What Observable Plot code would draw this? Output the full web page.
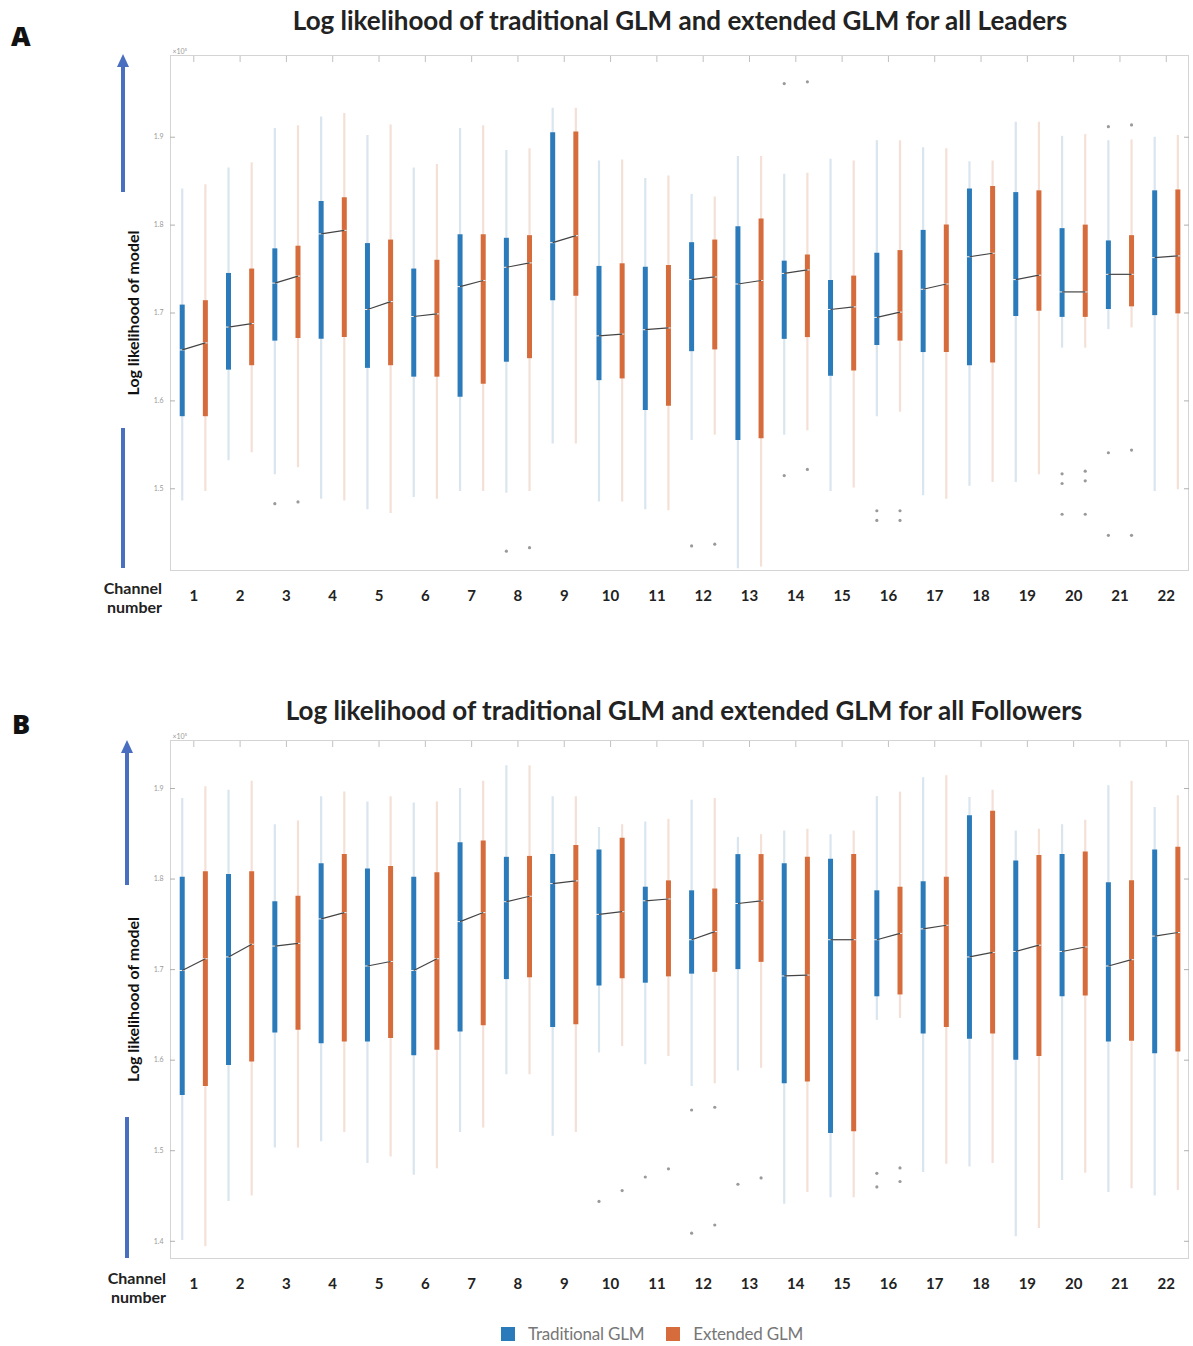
<!DOCTYPE html>
<html>
<head>
<meta charset="utf-8">
<script src="https://cdn.jsdelivr.net/npm/d3@7"></script>
<script src="https://cdn.jsdelivr.net/npm/@observablehq/plot@0.6"></script>
<style>
  body { margin: 0; background: #fff; font-family: Lato, "Open Sans", sans-serif; }
  #root { position: relative; width: 1193px; height: 1346px; overflow: hidden; }
  .panel { position: absolute; left: 0; }
  .abs { position: absolute; white-space: nowrap; }
  .title { font-weight: bold; font-size: 26px; color: #222; transform: translate(-50%, -50%); }
  .letter { font-family: "Open Sans", sans-serif; font-weight: 800; font-size: 27px; color: #111; transform: translateY(-50%); }
  .chan { font-weight: bold; font-size: 16px; color: #222; text-align: right; line-height: 19px; }
  .legend { display: flex; align-items: center; font-size: 17px; color: #777; letter-spacing: -0.2px; }
  .sw { width: 14px; height: 14px; display: inline-block; margin-right: 13px; }
</style>
</head>
<body>
<div id="root"></div>
<script>
// ---------------- data (values ×10^5) ----------------
const channels = [1,2,3,4,5,6,7,8,9,10,11,12,13,14,15,16,17,18,19,20,21,22];
const yTicksLeaders = [1.5,1.6,1.7,1.8,1.9];
const yTicksFollowers = [1.4,1.5,1.6,1.7,1.8,1.9];
const modelNames = ["Traditional GLM", "Extended GLM"];

// Panel A: Leaders
const leadTradHigh = [1.841,1.865,1.910,1.923,1.902,1.865,1.910,1.885,1.933,1.873,1.853,1.835,1.878,1.858,1.875,1.896,1.888,1.872,1.917,1.901,1.896,1.900];
const leadTradQ3   = [1.709,1.745,1.773,1.827,1.779,1.750,1.789,1.785,1.905,1.753,1.752,1.780,1.798,1.759,1.737,1.768,1.794,1.841,1.837,1.796,1.782,1.839];
const leadTradMed  = [1.658,1.684,1.734,1.790,1.704,1.696,1.730,1.752,1.780,1.674,1.681,1.738,1.733,1.745,1.704,1.695,1.727,1.764,1.738,1.724,1.744,1.763];
const leadTradQ1   = [1.582,1.635,1.668,1.670,1.637,1.627,1.604,1.644,1.714,1.623,1.589,1.656,1.555,1.670,1.628,1.663,1.655,1.640,1.696,1.695,1.704,1.697];
const leadTradLow  = [1.486,1.532,1.516,1.488,1.476,1.490,1.497,1.495,1.551,1.485,1.476,1.555,1.409,1.561,1.497,1.582,1.492,1.503,1.507,1.660,1.681,1.497];
const leadExtHigh  = [1.846,1.871,1.913,1.927,1.914,1.869,1.913,1.887,1.933,1.874,1.856,1.832,1.878,1.859,1.873,1.896,1.887,1.873,1.917,1.903,1.897,1.902];
const leadExtQ3    = [1.714,1.750,1.776,1.831,1.783,1.760,1.789,1.788,1.906,1.756,1.754,1.783,1.807,1.766,1.742,1.771,1.800,1.844,1.839,1.800,1.788,1.840];
const leadExtMed   = [1.666,1.688,1.742,1.794,1.713,1.699,1.737,1.757,1.788,1.676,1.683,1.741,1.737,1.749,1.707,1.701,1.733,1.768,1.743,1.724,1.744,1.765];
const leadExtQ1    = [1.582,1.640,1.671,1.672,1.640,1.627,1.619,1.648,1.719,1.625,1.594,1.658,1.557,1.672,1.634,1.668,1.655,1.643,1.702,1.695,1.707,1.699];
const leadExtLow   = [1.497,1.541,1.524,1.486,1.472,1.488,1.497,1.497,1.551,1.485,1.475,1.561,1.411,1.566,1.501,1.587,1.488,1.507,1.516,1.660,1.683,1.499];
const leadTradOut  = [[3,1.483],[8,1.429],[12,1.435],[14,1.961],[14,1.515],[16,1.475],[16,1.464],[20,1.517],[20,1.506],[20,1.471],[21,1.912],[21,1.541],[21,1.447]];
const leadExtOut   = [[3,1.485],[8,1.433],[12,1.437],[14,1.963],[14,1.522],[16,1.475],[16,1.464],[20,1.520],[20,1.509],[20,1.471],[21,1.914],[21,1.544],[21,1.447]];

// Panel B: Followers
const follTradHigh = [1.889,1.898,1.860,1.891,1.885,1.884,1.900,1.925,1.891,1.857,1.863,1.887,1.846,1.853,1.849,1.891,1.912,1.890,1.853,1.860,1.903,1.879];
const follTradQ3   = [1.802,1.805,1.775,1.817,1.811,1.802,1.840,1.824,1.827,1.832,1.791,1.787,1.827,1.817,1.822,1.787,1.797,1.870,1.820,1.827,1.796,1.832];
const follTradMed  = [1.699,1.714,1.726,1.756,1.704,1.699,1.753,1.775,1.795,1.761,1.776,1.733,1.773,1.693,1.733,1.733,1.745,1.714,1.720,1.720,1.704,1.737];
const follTradQ1   = [1.561,1.594,1.630,1.618,1.620,1.605,1.631,1.689,1.636,1.682,1.685,1.695,1.700,1.574,1.519,1.670,1.629,1.623,1.600,1.670,1.620,1.607];
const follTradLow  = [1.401,1.444,1.503,1.510,1.486,1.473,1.520,1.584,1.516,1.608,1.595,1.571,1.588,1.441,1.448,1.644,1.476,1.482,1.405,1.467,1.454,1.450];
const follExtHigh  = [1.902,1.908,1.864,1.896,1.891,1.885,1.908,1.925,1.891,1.860,1.866,1.889,1.849,1.855,1.853,1.896,1.914,1.898,1.855,1.865,1.908,1.892];
const follExtQ3    = [1.808,1.808,1.781,1.827,1.814,1.807,1.842,1.825,1.837,1.845,1.798,1.789,1.827,1.824,1.827,1.791,1.802,1.875,1.826,1.830,1.798,1.835];
const follExtMed   = [1.712,1.728,1.729,1.763,1.709,1.712,1.763,1.781,1.798,1.764,1.778,1.742,1.776,1.694,1.733,1.740,1.749,1.719,1.727,1.725,1.711,1.741];
const follExtQ1    = [1.571,1.598,1.633,1.620,1.624,1.611,1.638,1.691,1.639,1.690,1.692,1.697,1.708,1.576,1.521,1.672,1.636,1.629,1.604,1.671,1.621,1.609];
const follExtLow   = [1.394,1.450,1.503,1.520,1.493,1.480,1.525,1.584,1.520,1.615,1.604,1.574,1.591,1.454,1.448,1.646,1.485,1.486,1.414,1.475,1.458,1.456];
const follTradOut  = [[10,1.444],[11,1.471],[12,1.545],[12,1.409],[13,1.463],[16,1.475],[16,1.460]];
const follExtOut   = [[10,1.456],[11,1.480],[12,1.548],[12,1.418],[13,1.470],[16,1.481],[16,1.466]];

// ---------------- styling ----------------
const boxColor = {"Traditional GLM": "#2b7bbb", "Extended GLM": "#d66c3b"};
const whiskColor = {"Traditional GLM": "#d9e5ef", "Extended GLM": "#f4e0d6"};
const offset = {"Traditional GLM": -0.25, "Extended GLM": 0.25};

function buildRows(model, high, q3, med, q1, low) {
  return channels.map((c, i) => ({ch: c, model, pos: c + offset[model], high: high[i], q3: q3[i], med: med[i], q1: q1[i], low: low[i]}));
}

function panel({trad, ext, tradOut, extOut, domain, ticks, height, marginTop, marginBottom}) {
  const rows = [...buildRows("Traditional GLM", ...trad), ...buildRows("Extended GLM", ...ext)];
  const pairs = channels.map((c, i) => ({ch: c, a: trad[2][i], b: ext[2][i]}));
  const outs = [
    ...tradOut.map(([c, v]) => ({pos: c + offset["Traditional GLM"], v})),
    ...extOut.map(([c, v]) => ({pos: c + offset["Extended GLM"], v}))
  ];
  return Plot.plot({
    width: 1193, height, marginLeft: 170, marginRight: 5, marginTop, marginBottom,
    x: {type: "linear", domain: [0.497, 22.48], axis: null},
    y: {type: "linear", domain, axis: null},
    style: {fontFamily: "Lato, 'Open Sans', sans-serif", background: "transparent", overflow: "visible"},
    marks: [
      Plot.frame({stroke: "#d4d4d4"}),
      Plot.axisY({ticks, tickSize: 0, tickPadding: 7, tickFormat: d3.format(".1f"), fontSize: 7, color: "#999", label: null}),
      Plot.axisY({ticks, tickSize: -5, tickFormat: () => "", color: "#b0b0b0", label: null}),
      Plot.axisY({anchor: "right", ticks, tickSize: -5, tickFormat: () => "", color: "#b0b0b0", label: null}),
      Plot.axisX({anchor: "top", ticks: channels, tickSize: -6, tickFormat: () => "", color: "#c0c0c0", label: null}),
      Plot.axisX({anchor: "bottom", ticks: channels, tickSize: 0, tickPadding: 20, fontSize: 15, fontWeight: "bold", color: "#222", label: null}),
      Plot.axisY({ticks: [], label: "Log likelihood of model", labelAnchor: "center", labelOffset: 43, labelArrow: "none", fontSize: 16, fontWeight: "bold", color: "#111"}),
      Plot.text(["×10⁵"], {frameAnchor: "top-left", dy: -6, dx: 2, fontSize: 7, fill: "#999", textAnchor: "start"}),
      Plot.ruleX(rows, {x: "pos", y1: "low", y2: "high", stroke: d => whiskColor[d.model], strokeWidth: 2.2}),
      Plot.ruleX(rows, {x: "pos", y1: "q1", y2: "q3", stroke: d => boxColor[d.model], strokeWidth: 5}),
      Plot.ruleY(rows, {y: "med", x1: d => d.pos - 0.06, x2: d => d.pos + 0.06, stroke: "#eef3f7", strokeWidth: 1}),
      Plot.link(pairs, {x1: d => d.ch + offset["Traditional GLM"], x2: d => d.ch + offset["Extended GLM"], y1: "a", y2: "b", stroke: "#444", strokeWidth: 1.2}),
      Plot.dot(outs, {x: "pos", y: "v", r: 1.6, fill: "#9a9a9a", stroke: "none"})
    ]
  });
}

const root = document.getElementById("root");

const svgA = panel({
  trad: [leadTradHigh, leadTradQ3, leadTradMed, leadTradQ1, leadTradLow],
  ext: [leadExtHigh, leadExtQ3, leadExtMed, leadExtQ1, leadExtLow],
  tradOut: leadTradOut, extOut: leadExtOut,
  domain: [1.407, 1.993], ticks: yTicksLeaders,
  height: 620, marginTop: 55, marginBottom: 50
});
const divA = document.createElement("div");
divA.className = "panel"; divA.style.top = "0px"; divA.appendChild(svgA); root.appendChild(divA);

const svgB = panel({
  trad: [follTradHigh, follTradQ3, follTradMed, follTradQ1, follTradLow],
  ext: [follExtHigh, follExtQ3, follExtMed, follExtQ1, follExtLow],
  tradOut: follTradOut, extOut: follExtOut,
  domain: [1.381, 1.953], ticks: yTicksFollowers,
  height: 620, marginTop: 60, marginBottom: 42
});
const divB = document.createElement("div");
divB.className = "panel"; divB.style.top = "680px"; divB.appendChild(svgB); root.appendChild(divB);

// ---------------- overlays ----------------
function addDiv(cls, text, left, top) {
  const d = document.createElement("div");
  d.className = "abs " + cls; d.textContent = text;
  d.style.left = left + "px"; d.style.top = top + "px";
  root.appendChild(d); return d;
}
addDiv("title", "Log likelihood of traditional GLM and extended GLM for all Leaders", 680, 20);
addDiv("title", "Log likelihood of traditional GLM and extended GLM for all Followers", 684, 710);
addDiv("letter", "A", 11, 35);
addDiv("letter", "B", 12, 723);
const c1 = addDiv("chan", "", 82, 578); c1.innerHTML = "Channel<br>number"; c1.style.width = "80px";
const c2 = addDiv("chan", "", 86, 1268); c2.innerHTML = "Channel<br>number"; c2.style.width = "80px";

// arrows
const ns = "http://www.w3.org/2000/svg";
const ov = document.createElementNS(ns, "svg");
ov.setAttribute("width", 1193); ov.setAttribute("height", 1346);
ov.style.position = "absolute"; ov.style.left = "0"; ov.style.top = "0"; ov.style.pointerEvents = "none";
const arrowColor = "#4a6fc0";
function line(x, y1, y2) {
  const l = document.createElementNS(ns, "line");
  l.setAttribute("x1", x); l.setAttribute("x2", x); l.setAttribute("y1", y1); l.setAttribute("y2", y2);
  l.setAttribute("stroke", arrowColor); l.setAttribute("stroke-width", 4); ov.appendChild(l);
}
function head(x, y) {
  const p = document.createElementNS(ns, "polygon");
  p.setAttribute("points", `${x},${y} ${x-6},${y+13} ${x+6},${y+13}`);
  p.setAttribute("fill", arrowColor); ov.appendChild(p);
}
line(123, 192, 66); head(123, 54); line(123, 428, 568);
line(127, 885, 752); head(127, 740); line(127, 1117, 1258);
root.appendChild(ov);

// legend
const leg = document.createElement("div");
leg.className = "abs legend"; leg.style.left = "501px"; leg.style.top = "1323px";
leg.innerHTML = `<span class="sw" style="background:${boxColor["Traditional GLM"]}"></span><span style="margin-right:22px">${modelNames[0]}</span>` +
  `<span class="sw" style="background:${boxColor["Extended GLM"]}"></span><span>${modelNames[1]}</span>`;
root.appendChild(leg);
</script>
</body>
</html>
